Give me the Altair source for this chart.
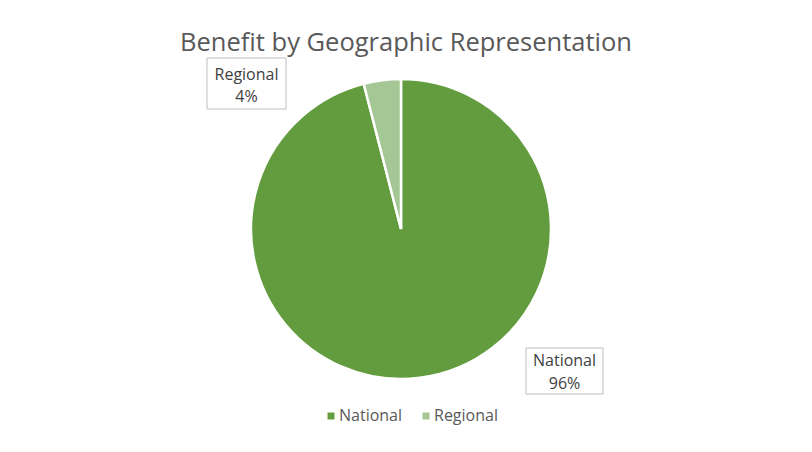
import altair as alt
import pandas as pd

categories = ["National", "Regional"]
values = [96, 4]
labels = ["96%", "4%"]
colors = ["#629C3E", "#A5C795"]
title_text = "Benefit by Geographic Representation"

df = pd.DataFrame({"category": categories, "value": values, "label": labels,
                   "order": [0, 1]})

FONT = "Open Sans"
CX, CY, R = 393, 221, 150

base = alt.Chart(df)

pie = base.mark_arc(stroke="white", strokeWidth=2.5, radius=R).encode(
    theta=alt.Theta("value:Q", stack=True),
    order=alt.Order("order:Q"),
    color=alt.Color(
        "category:N",
        scale=alt.Scale(domain=categories, range=colors),
        legend=alt.Legend(
            title=None, orient="none", direction="horizontal",
            legendX=315, legendY=400, symbolType="square", symbolSize=49,
            symbolStrokeWidth=0, labelFont=FONT, labelFontSize=16,
            labelColor="#595959", columnPadding=15, labelOffset=0, padding=0,
        ),
    ),
    x=alt.value(CX),
    y=alt.value(CY),
)

def label_layers(cat, x1, x2, y1, y2, ty1, ty2):
    sub = base.transform_filter(alt.datum.category == cat)
    box = sub.mark_rect(fill="white", stroke="#BFBFBF", strokeWidth=1).encode(
        x=alt.value(x1), x2=alt.value(x2), y=alt.value(y1), y2=alt.value(y2))
    t1 = sub.mark_text(font=FONT, fontSize=16, color="#404040", baseline="middle").encode(
        text="category:N", x=alt.value((x1 + x2) / 2), y=alt.value(ty1))
    t2 = sub.mark_text(font=FONT, fontSize=16, color="#404040", baseline="middle").encode(
        text="label:N", x=alt.value((x1 + x2) / 2), y=alt.value(ty2))
    return box + t1 + t2

reg = label_layers("Regional", 199, 278, 50, 101, 67, 89)
nat = label_layers("National", 518, 595, 340, 386, 353, 376)

title = alt.Chart(pd.DataFrame({"t": [title_text]})).mark_text(
    font=FONT, fontSize=25.5, color="#595959", baseline="alphabetic"
).encode(text="t:N", x=alt.value(398), y=alt.value(43))

chart = alt.layer(pie, reg, nat, title).properties(
    width=796, height=436,
    autosize=alt.AutoSizeParams(type="none"),
    padding=0,
).configure_view(stroke=None)

chart.save("out.html", embed_options={"renderer": "svg", "actions": False})
